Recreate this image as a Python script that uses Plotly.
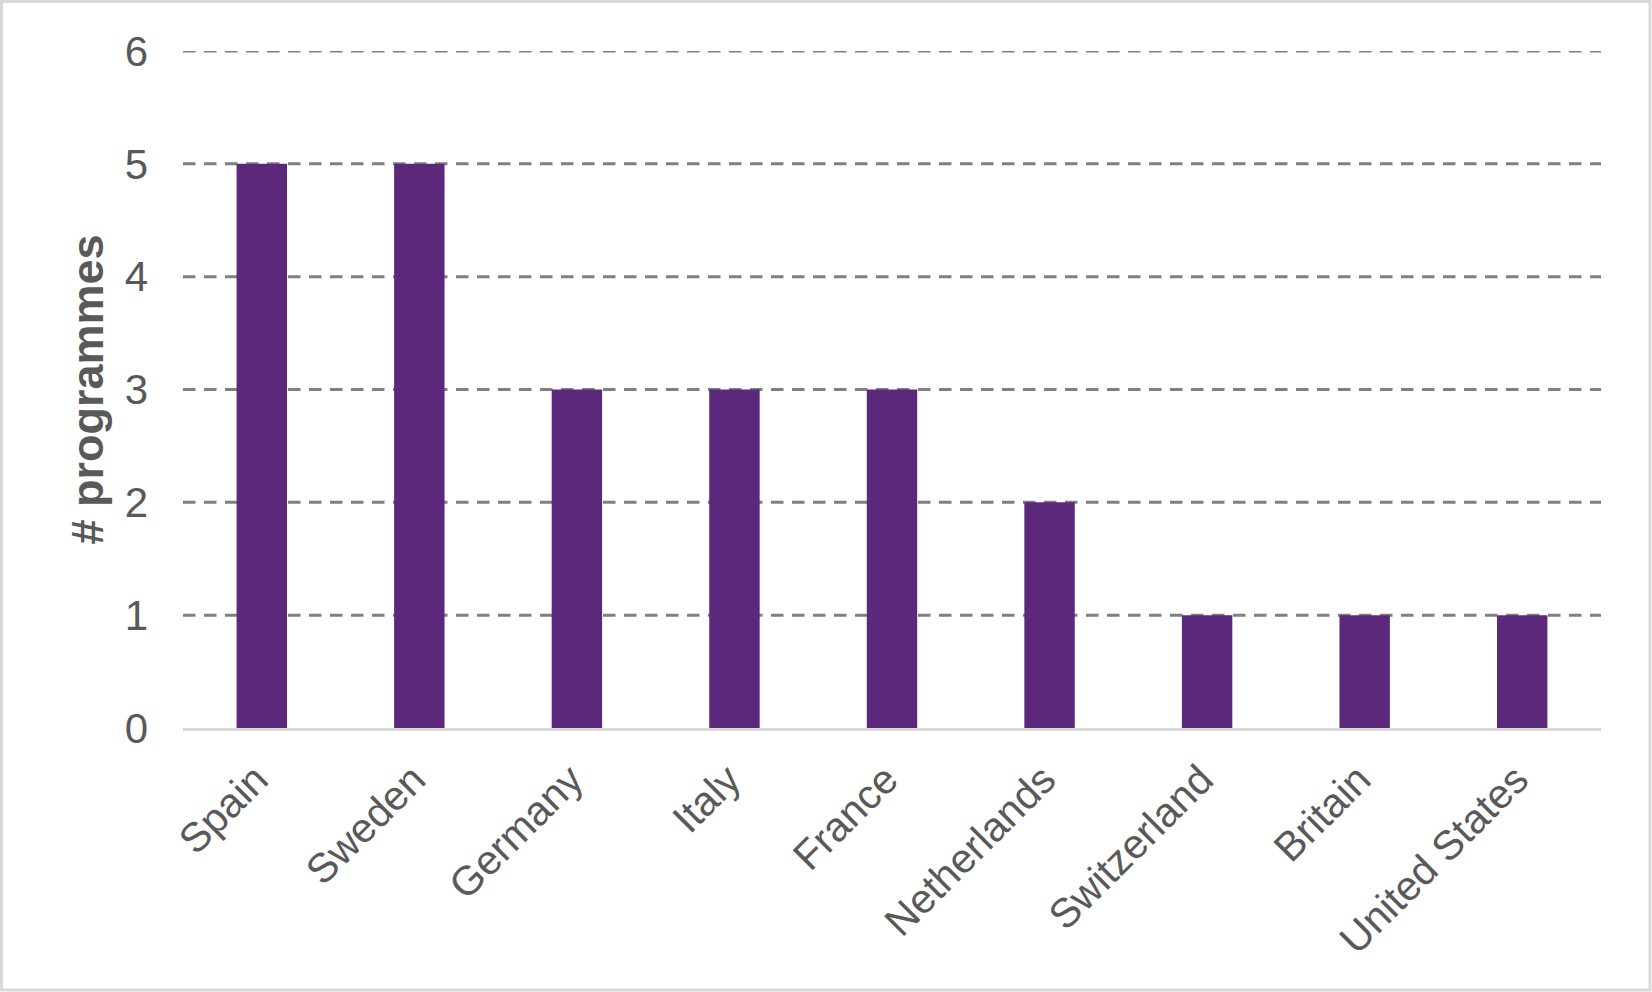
import plotly.graph_objects as go

countries = ["Spain", "Sweden", "Germany", "Italy", "France", "Netherlands",
             "Switzerland", "Britain", "United States"]
programmes = [5, 5, 3, 3, 3, 2, 1, 1, 1]
y_ticks = [0, 1, 2, 3, 4, 5, 6]

W, H = 1652, 992
L, R, T, B = 183, 51, 51, 264
pw, ph = W - L - R, H - T - B

fig = go.Figure()
fig.add_trace(go.Bar(
    x=countries, y=programmes,
    marker=dict(color="#5B287B", line=dict(width=0)),
    width=0.32,
))

for v in y_ticks[1:]:
    fig.add_shape(type="line", xref="paper", yref="y", x0=0, x1=1, y0=v, y1=v,
                  line=dict(color="#808080", width=3, dash="12.5px,8.5px"), layer="below")

# outer border
fig.add_shape(type="rect", xref="paper", yref="paper",
              x0=(1.5 - L) / pw, x1=(W - 2 - L) / pw,
              y0=-(B - 2) / ph, y1=1 + (T - 1.5) / ph,
              line=dict(color="#d9d9d9", width=3))

fig.update_layout(
    width=W, height=H,
    margin=dict(l=L, r=R, t=T, b=B, pad=0),
    paper_bgcolor="white", plot_bgcolor="white",
    font=dict(family="Liberation Sans, Arial, sans-serif", color="#595959", size=41),
    showlegend=False,
)
fig.update_xaxes(
    type="category", tickangle=-45, showgrid=False,
    showline=True, linecolor="#d9d9d9", linewidth=3,
    tickfont=dict(size=41, color="#595959"),
    ticks="outside", ticklen=8, tickcolor="rgba(0,0,0,0)",
    ticklabelshift=-6,
)
fig.update_yaxes(
    range=[0, 6], tickvals=y_ticks, showgrid=False, zeroline=False,
    tickfont=dict(size=42, color="#595959"),
    ticklabelstandoff=34,
    title=dict(text="<b># programmes</b>", font=dict(size=45, color="#595959"), standoff=6),
)

fig.write_html("out.html", config={"displayModeBar": False},
               post_script="document.body.style.margin='0';document.body.style.overflow='hidden';")
